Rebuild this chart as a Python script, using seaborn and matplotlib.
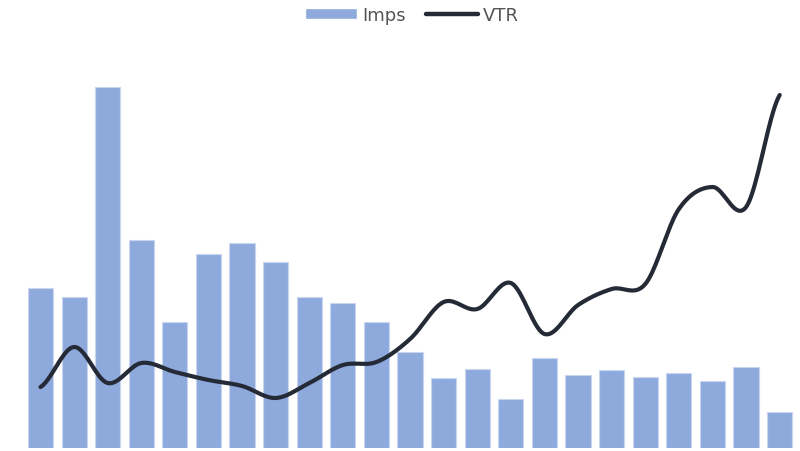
import numpy as np
import matplotlib
matplotlib.use("Agg")
import matplotlib.pyplot as plt
import seaborn as sns
import pandas as pd
from matplotlib.patches import Patch
from matplotlib.lines import Line2D

# data
periods = [f"P{i + 1}" for i in range(23)]
imps = [16000, 15100, 36100, 20800, 12600, 19400, 20500, 18600, 15100, 14500,
        12600, 9600, 7000, 7900, 4900, 9000, 7300, 7800, 7100, 7500, 6700, 8100, 3600]
vtr = [12.2, 20.2, 13.0, 17.0, 15.2, 13.6, 12.4, 10.0, 13.0, 16.6,
       17.2, 21.8, 29.2, 27.8, 33.0, 22.8, 28.6, 31.8, 32.8, 47.8, 52.2, 48.2, 70.6]

bar_color = "#8eaadc"
line_color = "#252b36"


def smooth(xs, ys, n=20):
    # catmull-rom style curve through the points
    xs = np.asarray(xs, float)
    ys = np.asarray(ys, float)
    px = np.concatenate([[2 * xs[0] - xs[1]], xs, [2 * xs[-1] - xs[-2]]])
    py = np.concatenate([[ys[0]], ys, [ys[-1]]])
    out_x, out_y = [], []
    t = np.linspace(0, 1, n, endpoint=False)
    for i in range(1, len(px) - 2):
        for arr, out in ((px, out_x), (py, out_y)):
            p0, p1, p2, p3 = arr[i - 1], arr[i], arr[i + 1], arr[i + 2]
            m1 = (p2 - p0) / 2
            m2 = (p3 - p1) / 2
            h00 = 2 * t**3 - 3 * t**2 + 1
            h10 = t**3 - 2 * t**2 + t
            h01 = -2 * t**3 + 3 * t**2
            h11 = t**3 - t**2
            out.extend(h00 * p1 + h10 * m1 + h01 * p2 + h11 * m2)
    out_x.append(xs[-1])
    out_y.append(ys[-1])
    return np.array(out_x), np.array(out_y)


df = pd.DataFrame({"period": periods, "Imps": imps, "VTR": vtr})

sns.set_style("white")
plt.rcParams["font.family"] = ["DejaVu Sans"]

fig = plt.figure(figsize=(8, 4.52), dpi=100)
ax = fig.add_axes([23.7 / 800, (452 - 449) / 452, 772.8 / 800, 389 / 452])

sns.barplot(data=df, x="period", y="Imps", color=bar_color, width=0.75,
            saturation=1, edgecolor="#c9d6ef", linewidth=0.8, ax=ax)
ax.set_xlim(-0.5, 22.5)
ax.set_ylim(0, 38900)

ax2 = ax.twinx()
sx, sy = smooth(np.arange(len(vtr)), vtr)
ax2.plot(sx, sy, color=line_color, lw=3.0, solid_capstyle="round")
ax2.set_ylim(0, 77.8)

for a in (ax, ax2):
    a.set_axis_off()

handles = [Patch(facecolor=bar_color, label="Imps"),
           Line2D([0], [0], color=line_color, lw=3.2, solid_capstyle="round", label="VTR")]
leg = fig.legend(handles=handles, loc="upper center", bbox_to_anchor=(0.515, 1.021),
                 ncol=2, frameon=False, fontsize=13, handlelength=2.9,
                 handleheight=0.6, handletextpad=0.28, columnspacing=1.1)
for t in leg.get_texts():
    t.set_color("#555555")

fig.savefig("out.png", dpi=100)
